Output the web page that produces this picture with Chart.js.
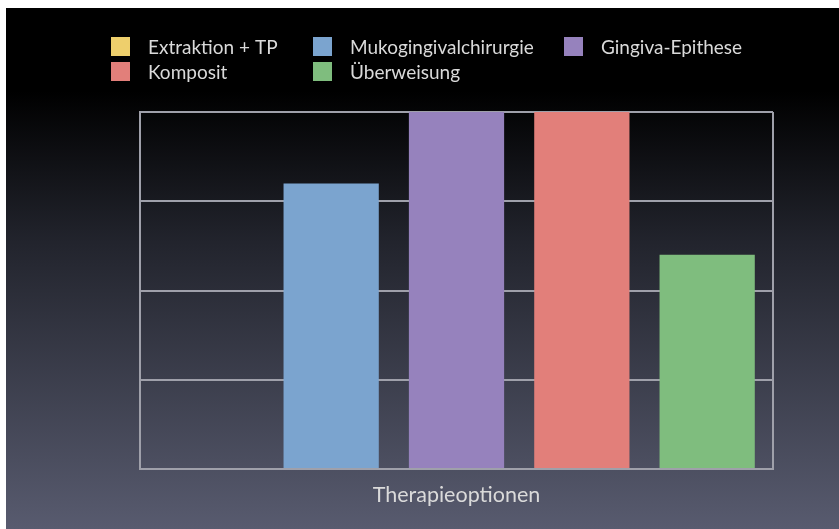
<!DOCTYPE html>
<html>
<head>
<meta charset="utf-8">
<script src="https://cdn.jsdelivr.net/npm/chart.js@4"></script>
<style>
  html, body { margin: 0; padding: 0; background: #ffffff; }
  #wrap { position: absolute; left: 6px; top: 8px; width: 833px; height: 521px; }
</style>
</head>
<body>
<div id="wrap"><canvas id="c"></canvas></div>
<script>
// Data
const categories = [''];
const axisTitle = 'Therapieoptionen';
const seriesNames = ['Extraktion + TP', 'Mukogingivalchirurgie', 'Gingiva-Epithese', 'Komposit', 'Überweisung'];
const seriesValues = [0, 3.2, 4, 4, 2.4];
const seriesColors = ['#eecf6c', '#7ba4cf', '#9682bd', '#e27f7a', '#7fbd7e'];
const yTicks = [0, 1, 2, 3, 4];

const FONT = 'Lato, "Open Sans", sans-serif';
const TEXT = '#dadada';
const LINE = '#9fa0aa';

// Dark slide background: black at the top fading to slate grey at the bottom
const backdrop = {
  id: 'backdrop',
  beforeDraw(chart) {
    const { ctx, width, height } = chart;
    const g = ctx.createLinearGradient(0, 0, 0, height);
    g.addColorStop(0, '#000000');
    g.addColorStop(0.16, '#000000');
    g.addColorStop(0.45, '#22242d');
    g.addColorStop(1, '#585b6f');
    ctx.save();
    ctx.fillStyle = g;
    ctx.fillRect(0, 0, width, height);
    ctx.restore();
  }
};

// Legend laid out as a three-column grid
const gridLegend = {
  id: 'gridLegend',
  afterDraw(chart) {
    const ctx = chart.ctx;
    const cols = [105, 307, 558];
    const rows = [29, 54];
    const box = 19;
    ctx.save();
    ctx.font = '19px ' + FONT;
    ctx.textBaseline = 'middle';
    ctx.textAlign = 'left';
    chart.data.datasets.forEach((ds, i) => {
      const x = cols[i % 3];
      const y = rows[Math.floor(i / 3)];
      ctx.fillStyle = ds.backgroundColor;
      ctx.fillRect(x, y, box, box);
      ctx.fillStyle = TEXT;
      ctx.fillText(ds.label, x + box + 18, y + box / 2 + 1);
    });
    ctx.restore();
  }
};

const datasets = seriesNames.map((name, i) => ({
  label: name,
  data: [seriesValues[i]],
  backgroundColor: seriesColors[i],
  borderWidth: 0,
  barPercentage: 0.76,
  categoryPercentage: 0.99
}));

new Chart(document.getElementById('c'), {
  type: 'bar',
  data: { labels: categories, datasets },
  options: {
    responsive: true,
    maintainAspectRatio: false,
    animation: false,
    layout: { padding: { left: 134, right: 66, top: 104, bottom: 0 } },
    plugins: {
      legend: { display: false },
      tooltip: { enabled: false }
    },
    scales: {
      x: {
        grid: { display: true, offset: true, color: LINE, lineWidth: 2, drawTicks: false },
        border: { display: true, color: LINE, width: 2 },
        ticks: { display: false },
        title: {
          display: true,
          text: axisTitle,
          color: TEXT,
          font: { family: FONT, size: 21.5 },
          padding: { top: 0, bottom: 21 }
        },
        afterFit(scale) { scale.height = 60; }
      },
      y: {
        min: yTicks[0],
        max: yTicks[yTicks.length - 1],
        afterBuildTicks(scale) { scale.ticks = yTicks.map(v => ({ value: v })); },
        grid: { color: LINE, lineWidth: 2, drawTicks: false },
        border: { display: true, color: LINE, width: 2 },
        ticks: { display: false },
        afterFit(scale) { scale.width = 0; }
      }
    }
  },
  plugins: [backdrop, gridLegend]
});
</script>
</body>
</html>
